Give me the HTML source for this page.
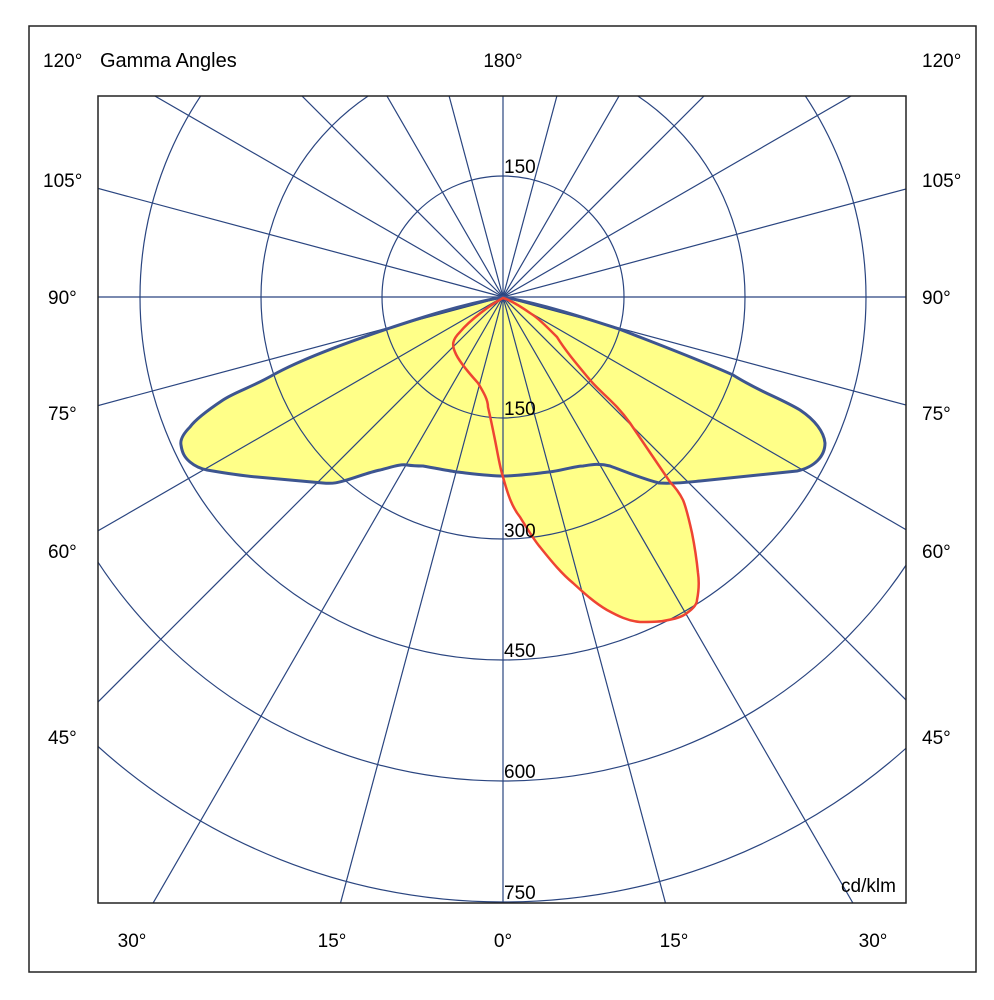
<!DOCTYPE html>
<html><head><meta charset="utf-8"><style>
html,body{margin:0;padding:0;background:#fff;width:994px;height:1000px;overflow:hidden;}
svg{display:block;}
text{font-family:"Liberation Sans",Arial,sans-serif;font-size:19px;fill:#000;}
</style></head><body>
<svg width="994" height="1000" viewBox="0 0 994 1000" xmlns="http://www.w3.org/2000/svg">
<defs><clipPath id="c"><rect x="98" y="96" width="808" height="807"/></clipPath></defs>
<rect x="29" y="26" width="947" height="946" fill="none" stroke="#222" stroke-width="1.5"/>
<g clip-path="url(#c)">
<path d="M503,297 C460,305 420,318 387,329 C340,345 300,360 273,375 C250,388 235,392 223,400 C205,412 195,420 190,427 C183,434 180,440 181,445 C182,452 184,457 190,462 C196,467 202,469 207,470 C230,474 245,476 257,477 C290,480 310,482 323,483 C335,484 340,482 347,480 C360,476 370,472 380,470 C392,467 400,464 407,465 C414,466 418,466 423,466 C440,469 450,471 457,472 C475,474 490,476 503,476 C516,476 531,474 549,472 C560,471 575,466 583,466 C590,465 598,463 610,466 C624,471 640,478 659,483 C675,484 690,482 700,481 C720,479 760,475 797,471 C815,467 825,456 825,443 C824,432 815,420 800,410 C780,398 760,392 733,375 C700,360 660,345 619,329 C585,318 546,305 503,297 Z" fill="#ffff88"/>
<path d="M503,298 C490,305 470,320 460,332 C452,340 452,345 455,352 C458,360 468,372 478,383 C484,393 488,400 488,407 C491,420 493,430 495,440 C498,455 500,468 503,477 C508,495 512,507 520,517 C528,530 534,540 540,547 C552,562 562,574 573,583 C585,594 595,603 607,610 C618,616 628,621 640,622 C650,622 657,622 663,621 C675,619 682,617 687,613 C694,608 697,604 697,600 C699,590 699,580 698,573 C696,553 694,543 692,533 C688,515 686,507 683,500 C679,492 675,487 670,482 C655,460 645,445 630,423 C615,402 603,395 590,380 C575,362 565,350 557,337 C545,325 538,318 530,313 C520,306 510,300 503,298 Z" fill="#ffff88"/>
<g stroke="#2a4580" stroke-width="1.2" fill="none">
<circle cx="503" cy="297" r="121"/>
<circle cx="503" cy="297" r="242"/>
<circle cx="503" cy="297" r="363"/>
<circle cx="503" cy="297" r="484"/>
<circle cx="503" cy="297" r="605"/>
<line x1="503" y1="297" x2="1503" y2="297"/>
<line x1="503" y1="297" x2="1469" y2="556"/>
<line x1="503" y1="297" x2="1369" y2="797"/>
<line x1="503" y1="297" x2="1210" y2="1004"/>
<line x1="503" y1="297" x2="1003" y2="1163"/>
<line x1="503" y1="297" x2="762" y2="1263"/>
<line x1="503" y1="297" x2="503" y2="1297"/>
<line x1="503" y1="297" x2="244" y2="1263"/>
<line x1="503" y1="297" x2="3" y2="1163"/>
<line x1="503" y1="297" x2="-204" y2="1004"/>
<line x1="503" y1="297" x2="-363" y2="797"/>
<line x1="503" y1="297" x2="-463" y2="556"/>
<line x1="503" y1="297" x2="-497" y2="297"/>
<line x1="503" y1="297" x2="-463" y2="38"/>
<line x1="503" y1="297" x2="-363" y2="-203"/>
<line x1="503" y1="297" x2="-204" y2="-410"/>
<line x1="503" y1="297" x2="3" y2="-569"/>
<line x1="503" y1="297" x2="244" y2="-669"/>
<line x1="503" y1="297" x2="503" y2="-703"/>
<line x1="503" y1="297" x2="762" y2="-669"/>
<line x1="503" y1="297" x2="1003" y2="-569"/>
<line x1="503" y1="297" x2="1210" y2="-410"/>
<line x1="503" y1="297" x2="1369" y2="-203"/>
<line x1="503" y1="297" x2="1469" y2="38"/>
</g>
<path d="M503,297 C460,305 420,318 387,329 C340,345 300,360 273,375 C250,388 235,392 223,400 C205,412 195,420 190,427 C183,434 180,440 181,445 C182,452 184,457 190,462 C196,467 202,469 207,470 C230,474 245,476 257,477 C290,480 310,482 323,483 C335,484 340,482 347,480 C360,476 370,472 380,470 C392,467 400,464 407,465 C414,466 418,466 423,466 C440,469 450,471 457,472 C475,474 490,476 503,476 C516,476 531,474 549,472 C560,471 575,466 583,466 C590,465 598,463 610,466 C624,471 640,478 659,483 C675,484 690,482 700,481 C720,479 760,475 797,471 C815,467 825,456 825,443 C824,432 815,420 800,410 C780,398 760,392 733,375 C700,360 660,345 619,329 C585,318 546,305 503,297 Z" fill="none" stroke="#3d5590" stroke-width="3"/>
<path d="M503,298 C490,305 470,320 460,332 C452,340 452,345 455,352 C458,360 468,372 478,383 C484,393 488,400 488,407 C491,420 493,430 495,440 C498,455 500,468 503,477 C508,495 512,507 520,517 C528,530 534,540 540,547 C552,562 562,574 573,583 C585,594 595,603 607,610 C618,616 628,621 640,622 C650,622 657,622 663,621 C675,619 682,617 687,613 C694,608 697,604 697,600 C699,590 699,580 698,573 C696,553 694,543 692,533 C688,515 686,507 683,500 C679,492 675,487 670,482 C655,460 645,445 630,423 C615,402 603,395 590,380 C575,362 565,350 557,337 C545,325 538,318 530,313 C520,306 510,300 503,298 Z" fill="none" stroke="#ee4433" stroke-width="2.5"/>
</g>
<rect x="98" y="96" width="808" height="807" fill="none" stroke="#222" stroke-width="1.5"/>
<text x="43" y="67">120°</text>
<text x="100" y="67" style="font-size:20px">Gamma Angles</text>
<text x="503" y="67" text-anchor="middle">180°</text>
<text x="922" y="67">120°</text>
<text x="43" y="187">105°</text><text x="922" y="187">105°</text>
<text x="48" y="304">90°</text><text x="922" y="304">90°</text>
<text x="48" y="420">75°</text><text x="922" y="420">75°</text>
<text x="48" y="558">60°</text><text x="922" y="558">60°</text>
<text x="48" y="744">45°</text><text x="922" y="744">45°</text>
<text x="132" y="947" text-anchor="middle">30°</text>
<text x="332" y="947" text-anchor="middle">15°</text>
<text x="503" y="947" text-anchor="middle">0°</text>
<text x="674" y="947" text-anchor="middle">15°</text>
<text x="873" y="947" text-anchor="middle">30°</text>
<text x="504" y="173">150</text>
<text x="504" y="415">150</text>
<text x="504" y="537">300</text>
<text x="504" y="657">450</text>
<text x="504" y="778">600</text>
<text x="504" y="899">750</text>
<text x="841" y="892">cd/klm</text>
</svg>
</body></html>
